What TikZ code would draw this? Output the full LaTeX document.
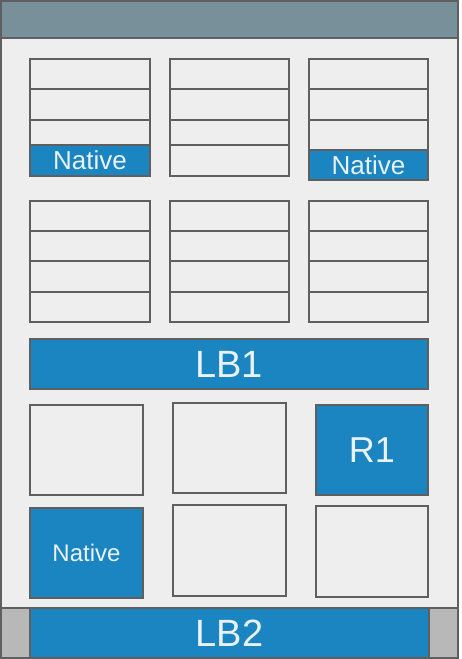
\documentclass[tikz,border=0pt]{standalone}
\usepackage{fontspec}
\setmainfont{Liberation Sans}
\definecolor{bluefill}{HTML}{1A85C0}
\definecolor{barfill}{HTML}{78909A}
\definecolor{bgfill}{HTML}{EEEEEE}
\definecolor{edge}{HTML}{5F5F5F}
\definecolor{sidefill}{HTML}{B8B8B8}
\definecolor{txt}{HTML}{EAF2F7}
\tikzset{
  cellbox/.style={draw=edge, line width=1.6pt, fill=bgfill, inner sep=0pt, outer sep=0pt, anchor=north west},
  bluebox/.style={cellbox, fill=bluefill, text=txt},
  barbox/.style={cellbox, fill=barfill},
  sidebox/.style={cellbox, fill=sidefill},
}
% \bx{name}{x1}{y1}{x2}{y2}{style}{text}
\newcommand\bx[7]{\node[#6, minimum width={#4pt-#2pt}, minimum height={#5pt-#3pt}] (#1) at (#2,#3) {#7};}
\begin{document}
\begin{tikzpicture}[x=1pt,y=-1pt]
\useasboundingbox (0,0) rectangle (461,659);
% frame
\bx{body}{1}{1}{458}{608}{cellbox}{}
\bx{topbar}{1}{1}{458}{38}{barbox}{}
% column 1 stack
\bx{a1}{30}{59}{150}{89}{cellbox}{}
\bx{a2}{30}{89}{150}{120}{cellbox}{}
\bx{a3}{30}{120}{150}{145}{cellbox}{}
\bx{a4}{30}{145}{150}{176}{bluebox}{\fontsize{26}{26}\selectfont Native}
% column 2 stack
\bx{b1}{170}{59}{289}{89}{cellbox}{}
\bx{b2}{170}{89}{289}{120}{cellbox}{}
\bx{b3}{170}{120}{289}{145}{cellbox}{}
\bx{b4}{170}{145}{289}{176}{cellbox}{}
% column 3 stack
\bx{c1}{309}{59}{428}{89}{cellbox}{}
\bx{c2}{309}{89}{428}{120}{cellbox}{}
\bx{c3}{309}{120}{428}{150}{cellbox}{}
\bx{c4}{309}{150}{428}{180}{bluebox}{\fontsize{26}{26}\selectfont Native}
% second stacks
\bx{d1}{30}{201}{150}{231}{cellbox}{}
\bx{d2}{30}{231}{150}{261}{cellbox}{}
\bx{d3}{30}{261}{150}{292}{cellbox}{}
\bx{d4}{30}{292}{150}{322}{cellbox}{}
\bx{e1}{170}{201}{289}{231}{cellbox}{}
\bx{e2}{170}{231}{289}{261}{cellbox}{}
\bx{e3}{170}{261}{289}{292}{cellbox}{}
\bx{e4}{170}{292}{289}{322}{cellbox}{}
\bx{f1}{309}{201}{428}{231}{cellbox}{}
\bx{f2}{309}{231}{428}{261}{cellbox}{}
\bx{f3}{309}{261}{428}{292}{cellbox}{}
\bx{f4}{309}{292}{428}{322}{cellbox}{}
% LB1
\bx{lb1}{30}{339}{428}{389}{bluebox}{\fontsize{38}{38}\selectfont LB1}
% squares row 1
\bx{g1}{30}{405}{143}{495}{cellbox}{}
\bx{g2}{173}{403}{286}{493}{cellbox}{}
\bx{r1}{316}{405}{428}{495}{bluebox}{\fontsize{36}{36}\selectfont R1}
% squares row 2
\bx{h1}{30}{508}{143}{598}{bluebox}{\fontsize{24}{24}\selectfont Native}
\bx{h2}{173}{505}{286}{596}{cellbox}{}
\bx{h3}{316}{506}{428}{597}{cellbox}{}
% bottom row
\bx{sl}{1}{608}{30}{658}{sidebox}{}
\bx{sr}{429}{608}{458}{658}{sidebox}{}
\bx{lb2}{30}{608}{429}{658}{bluebox}{\fontsize{38}{38}\selectfont LB2}
\end{tikzpicture}
\end{document}
